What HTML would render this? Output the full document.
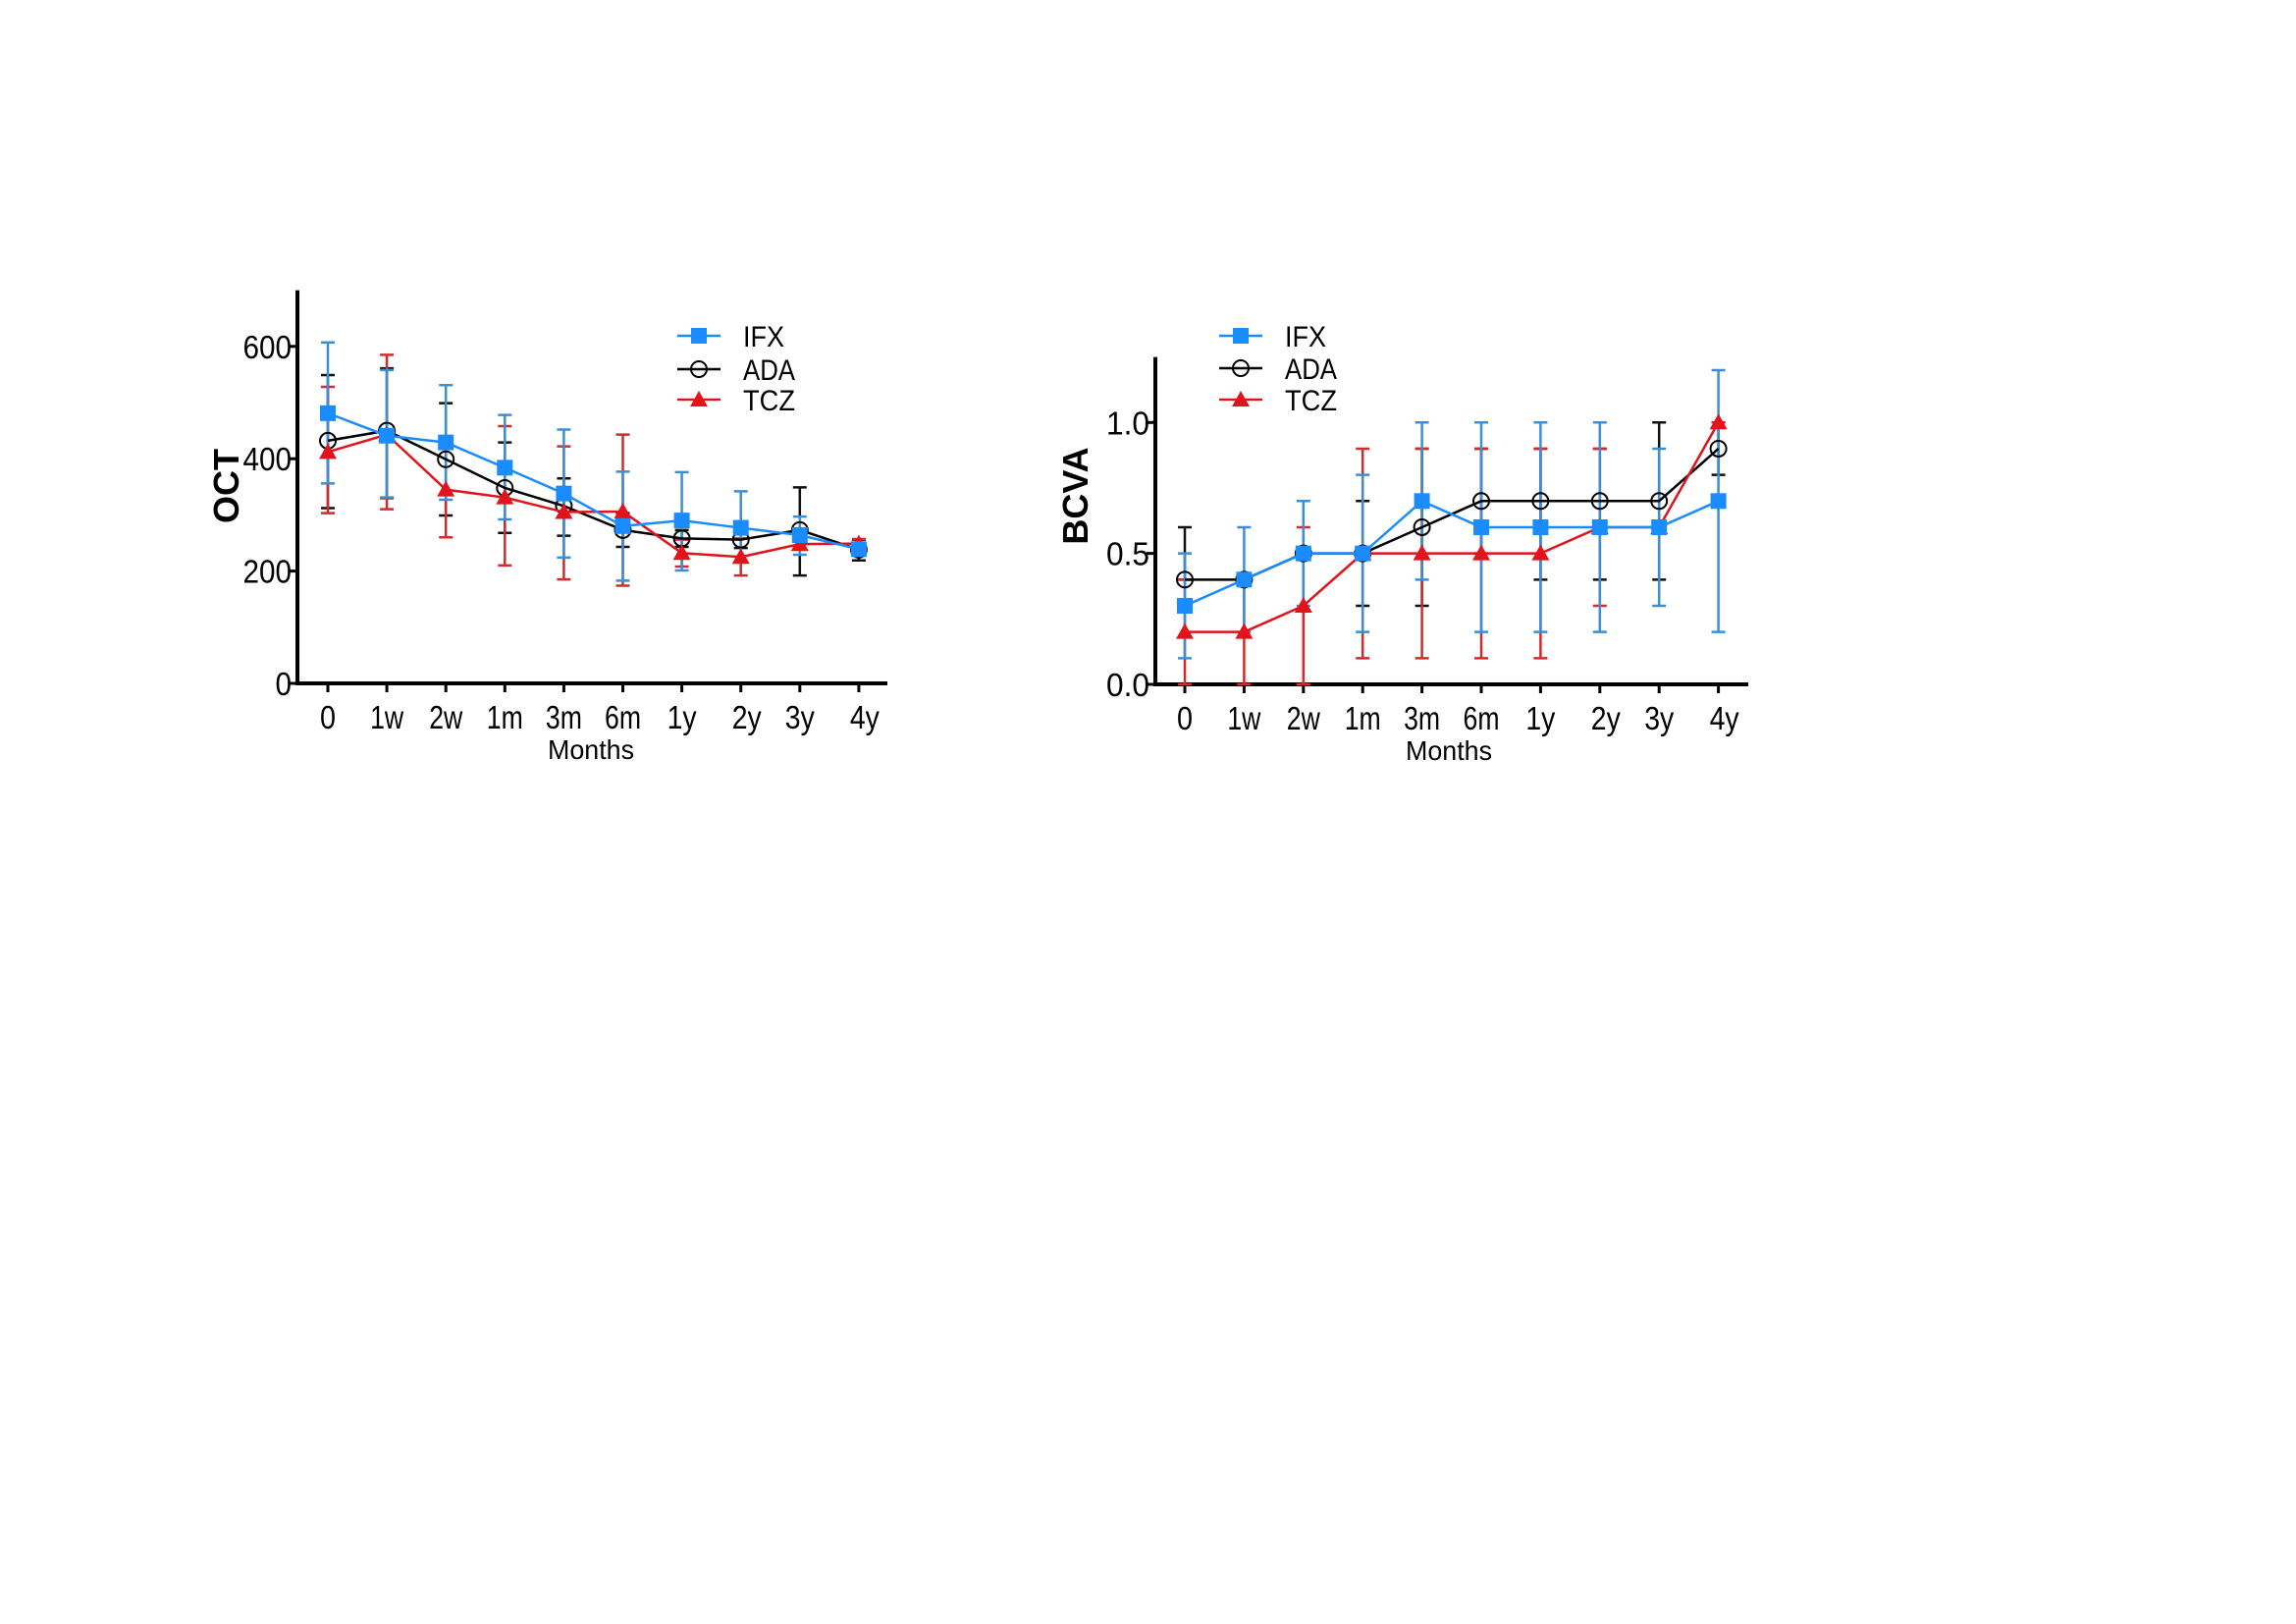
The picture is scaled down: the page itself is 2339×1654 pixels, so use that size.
<!DOCTYPE html>
<html><head><meta charset="utf-8"><style>
html,body{margin:0;padding:0;background:#fff;}
svg{display:block;font-family:"Liberation Sans",Arial,sans-serif;}
</style></head><body>
<svg id="s" width="2339" height="1654" viewBox="0 0 2339 1654"></svg>
<script>
const categories=["0","1w","2w","1m","3m","6m","1y","2y","3y","4y"];
const seriesNames=["IFX","ADA","TCZ"];
// OCT chart
const octIFX=[481,441,429,384,338,280,290,277,264,239];
const octIFXLo=[356,331,327,292,224,183,201,215,229,229];
const octIFXHi=[607,558,531,478,452,377,376,342,297,249];
const octADA=[432,450,399,348,316,273,258,256,273,238];
const octADALo=[312,330,299,268,263,243,243,241,192,219];
const octADAHi=[549,561,499,429,365,303,273,271,349,256];
const octTCZ=[412,443,345,331,305,306,232,225,248,249];
const octTCZLo=[303,310,260,210,185,174,208,192,240,241];
const octTCZHi=[528,585,430,458,422,443,256,258,256,257];
const octTicks=[0,200,400,600];
// BCVA chart
const vaIFX=[0.3,0.4,0.5,0.5,0.7,0.6,0.6,0.6,0.6,0.7];
const vaIFXLo=[0.1,0.2,0.3,0.2,0.4,0.2,0.2,0.2,0.3,0.2];
const vaIFXHi=[0.5,0.6,0.7,0.8,1.0,1.0,1.0,1.0,0.9,1.2];
const vaADA=[0.4,0.4,0.5,0.5,0.6,0.7,0.7,0.7,0.7,0.9];
const vaADALo=[0.4,0.4,0.5,0.3,0.3,0.5,0.4,0.4,0.4,0.8];
const vaADAHi=[0.6,0.4,0.5,0.7,0.9,0.9,0.9,0.9,1.0,1.0];
const vaTCZ=[0.2,0.2,0.3,0.5,0.5,0.5,0.5,0.6,0.6,1.0];
const vaTCZLo=[0,0,0,0.1,0.1,0.1,0.1,0.3,0.6,1.0];
const vaTCZHi=[0.4,0.4,0.6,0.9,0.9,0.9,0.9,0.9,0.6,1.0];
const vaTicks=[0.0,0.5,1.0];
const vaTickLabels=["0.0","0.5","1.0"];

const NS="http://www.w3.org/2000/svg";
const svg=document.getElementById('s');
function mk(tag,attrs,parent){const e=document.createElementNS(NS,tag);for(const k in attrs)e.setAttribute(k,attrs[k]);(parent||svg).appendChild(e);return e;}
const colors={IFX:"#1a8cff",ADA:"#000000",TCZ:"#e3131b"};
const errColors={IFX:"#3a8fd8",ADA:"#111",TCZ:"#d42a2a"};
const legW={IFX:42,ADA:53,TCZ:53};

function marker(g,name,x,y){
  let m;
  if(name==="IFX"){m=mk('rect',{x:x-8,y:y-8,width:16,height:16,fill:colors.IFX},g);}
  else if(name==="ADA"){m=mk('circle',{cx:x,cy:y,r:8,fill:"none",stroke:"#000","stroke-width":2},g);}
  else {m=mk('polygon',{points:`${x},${y-9} ${x+9},${y+7} ${x-9},${y+7}`,fill:colors.TCZ},g);}
  return m;
}

function chart(cfg){
  const g=mk('g',{});
  
  
  const X=i=>cfg.x0+i*cfg.dx;
  const Y=v=>cfg.y0-(v-cfg.vmin)*cfg.scale;
  const ya=mk('line',{x1:cfg.axX,y1:Y(cfg.vmax),x2:cfg.axX,y2:cfg.y0+1.5,stroke:"#000","stroke-width":4},g);
  
  const xa=mk('line',{x1:cfg.axX-2,y1:cfg.y0,x2:cfg.axEnd,y2:cfg.y0,stroke:"#000","stroke-width":4},g);
  
  cfg.ticks.forEach((t,i)=>{
    mk('line',{x1:cfg.axX-9,y1:Y(t),x2:cfg.axX,y2:Y(t),stroke:"#000","stroke-width":3},g);
    const lab=cfg.tickLabels[i];
    const w=lab.includes('.')?44:lab.length*16.5;
    const tx=mk('text',{x:cfg.axX-6,y:Y(t)+12,"text-anchor":"end","font-size":33,textLength:w,lengthAdjust:"spacingAndGlyphs"},g);
    tx.textContent=lab;
    
  });
  categories.forEach((c,i)=>{
    mk('line',{x1:X(i),y1:cfg.y0,x2:X(i),y2:cfg.y0+9,stroke:"#000","stroke-width":3},g);
    const off=(c==="2y"||c==="4y")?6:0;
    const w=c.length===1?16:(c.endsWith('m')?37:(c.endsWith('w')?34:30));
    const tx=mk('text',{x:X(i)+off,y:cfg.y0+46,"text-anchor":"middle","font-size":33,textLength:w,lengthAdjust:"spacingAndGlyphs"},g);
    tx.textContent=c;
    
  });
  const xt=mk('text',{x:cfg.monthsX,y:cfg.y0+77,"text-anchor":"middle","font-size":28,textLength:88,lengthAdjust:"spacingAndGlyphs"},g);
  xt.textContent="Months";
  const yt=mk('text',{x:0,y:0,transform:`translate(${cfg.titleX},${cfg.titleY}) rotate(-90)`,"text-anchor":"middle","font-size":36,"font-weight":"bold"},g);
  yt.textContent=cfg.title;
  const order=cfg.order;
  order.forEach(n=>{
    const s=cfg.series[n];
    const sg=mk('g',{},g);
    
    s.v.forEach((v,i)=>{
      const e=mk('path',{d:`M${X(i)},${Y(s.lo[i])}V${Y(s.hi[i])}M${X(i)-7},${Y(s.lo[i])}h14M${X(i)-7},${Y(s.hi[i])}h14`,stroke:errColors[n],"stroke-width":2.5,fill:"none"},sg);
      
    });
  });
  order.forEach(n=>{
    const s=cfg.series[n];
    const sg=mk('g',{},g);
    const ln=mk('polyline',{points:s.v.map((v,i)=>X(i)+","+Y(v)).join(" "),fill:"none",stroke:colors[n],"stroke-width":2.5},sg);
    
    s.v.forEach((v,i)=>{
      const m=marker(sg,n,X(i),Y(v));
      
    });
  });
  const lg=mk('g',{},g);
  
  seriesNames.forEach((n,k)=>{
    const y=cfg.legY[k];
    const eg=mk('g',{},lg);
    
    mk('line',{x1:cfg.legX,y1:y,x2:cfg.legX+44,y2:y,stroke:colors[n],"stroke-width":2.5},eg);
    marker(eg,n,cfg.legX+22,y);
    const t=mk('text',{x:cfg.legX+67,y:y+11,"font-size":30,textLength:legW[n],lengthAdjust:"spacingAndGlyphs"},eg);
    t.textContent=n;
  });
}

chart({name:'oct-chart',x0:334,dx:60.1,y0:696,vmin:0,vmax:700,scale:0.572,axX:303,axEnd:904,
  ticks:octTicks,tickLabels:octTicks.map(String),monthsX:602,title:"OCT",titleX:243,titleY:495,
  legX:690,legY:[342,376,407],order:["ADA","TCZ","IFX"],
  series:{IFX:{v:octIFX,lo:octIFXLo,hi:octIFXHi},ADA:{v:octADA,lo:octADALo,hi:octADAHi},TCZ:{v:octTCZ,lo:octTCZLo,hi:octTCZHi}}});
chart({name:'bcva-chart',x0:1207,dx:60.4,y0:697,vmin:0,vmax:1.25,scale:266.7,axX:1177,axEnd:1781,
  ticks:vaTicks,tickLabels:vaTickLabels,monthsX:1476,title:"BCVA",titleX:1108,titleY:505,
  legX:1242,legY:[342,375,407],order:["ADA","TCZ","IFX"],
  series:{IFX:{v:vaIFX,lo:vaIFXLo,hi:vaIFXHi},ADA:{v:vaADA,lo:vaADALo,hi:vaADAHi},TCZ:{v:vaTCZ,lo:vaTCZLo,hi:vaTCZHi}}});
</script>
</body></html>
